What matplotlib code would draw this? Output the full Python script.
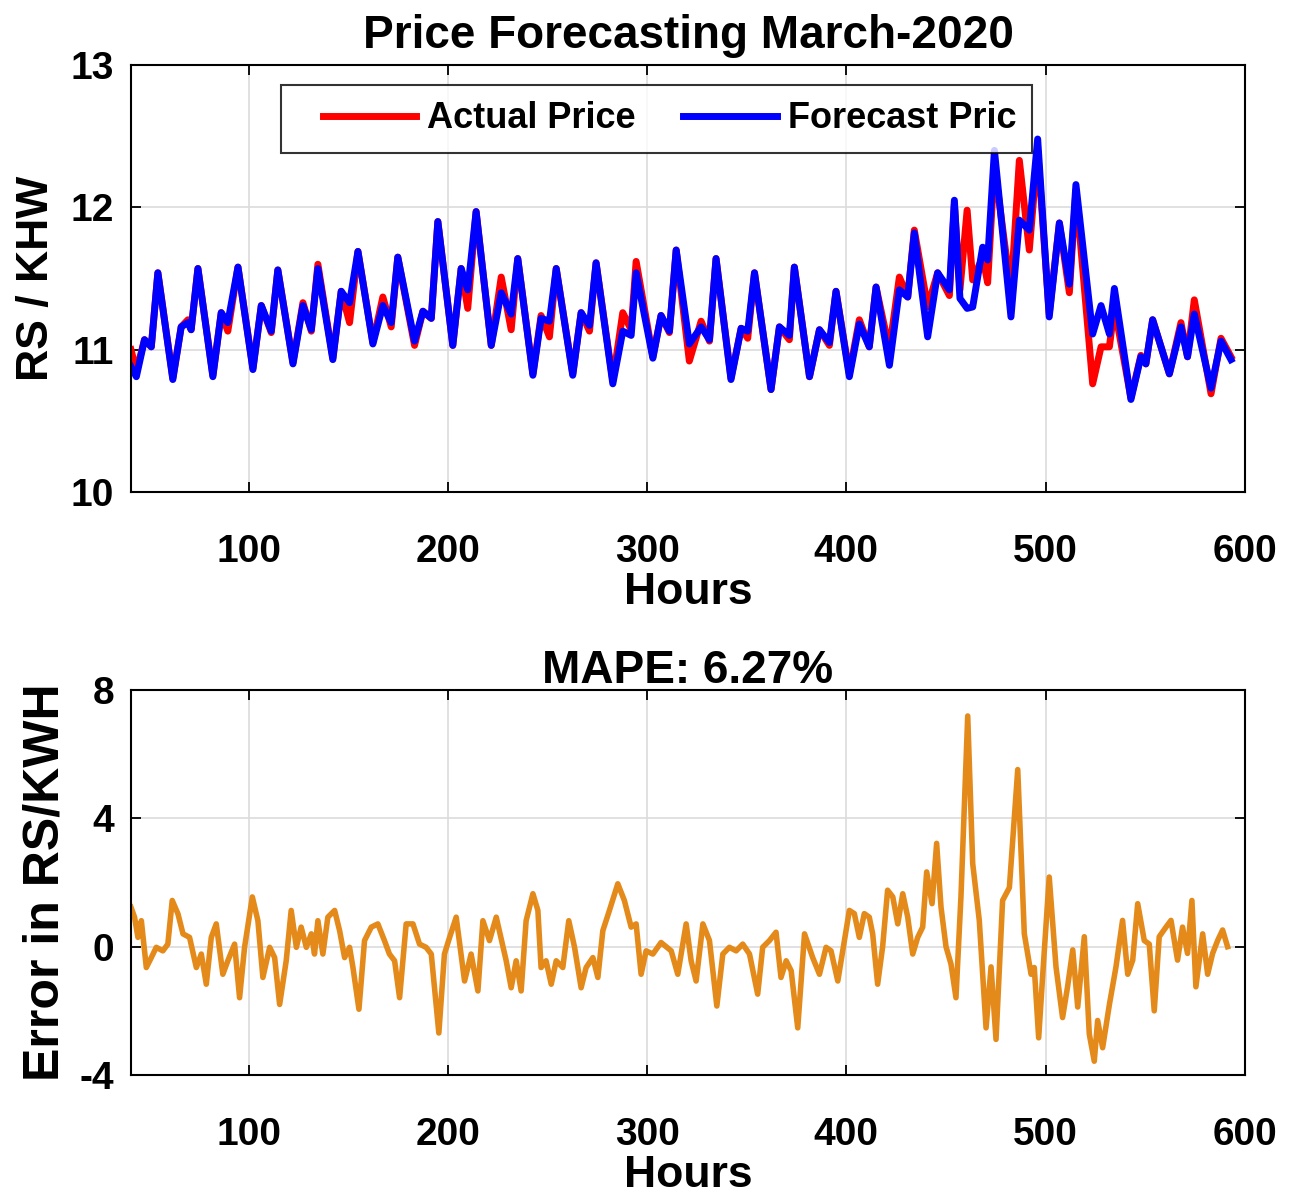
import matplotlib
matplotlib.use("Agg")
import matplotlib.pyplot as plt
from matplotlib.legend_handler import HandlerLine2D

plt.rcParams["font.family"] = ["Liberation Sans", "DejaVu Sans"]
plt.rcParams["font.weight"] = "bold"
plt.rcParams["axes.unicode_minus"] = False

# Hourly prices (vertices of the daily cycles), March 2020
hours = [41, 43.7, 47.8, 51.2, 54.5, 62, 66.2, 69.6, 71.2, 74.6,
         82.1, 86.3, 89.6, 94.7, 102.2, 106.4, 111.4, 114.7, 122.3, 127.3,
         131.5, 134.8, 142.3, 146.5, 150.7, 154.9, 162.4, 167.4, 171.6, 174.9,
         183.3, 187.5, 191.7, 195.0, 202.5, 206.7, 210.0, 214.2, 221.8, 226.8,
         231.8, 235.1, 242.7, 246.8, 251.0, 254.4, 262.7, 266.9, 271.1, 274.4,
         282.8, 287.8, 292.0, 294.5, 302.9, 307.0, 311.2, 314.6, 321.2, 327.1,
         331.3, 334.6, 342.1, 347.2, 350.5, 353.9, 362.2, 366.4, 371.4, 373.9,
         381.5, 386.5, 391.5, 394.8, 401.5, 406.5, 411.5, 414.9, 421.6, 426.6,
         430.8, 434.1, 440.8, 445.8, 451.7, 454.2, 457.0, 460.6, 463.4, 468.4,
         470.9, 474.3, 482.6, 486.8, 491.8, 496.0, 501.8, 506.9, 511.9, 515.2,
         523.6, 527.8, 532.0, 534.5, 542.8, 547.8, 550.3, 553.7, 562.1, 567.9,
         571.2, 574.6, 583.0, 588.0, 593.0]

actual = [11.00, 10.85, 11.07, 11.02, 11.54, 10.80, 11.16, 11.21, 11.14, 11.57,
          10.82, 11.26, 11.13, 11.58, 10.87, 11.31, 11.12, 11.56, 10.91, 11.33,
          11.13, 11.60, 10.94, 11.41, 11.19, 11.69, 11.05, 11.37, 11.16, 11.65,
          11.03, 11.27, 11.22, 11.90, 11.03, 11.57, 11.29, 11.97, 11.03, 11.51,
          11.14, 11.64, 10.83, 11.24, 11.09, 11.57, 10.83, 11.26, 11.13, 11.61,
          10.78, 11.26, 11.14, 11.62, 10.95, 11.24, 11.12, 11.70, 10.92, 11.20,
          11.06, 11.64, 10.80, 11.15, 11.08, 11.54, 10.72, 11.16, 11.07, 11.58,
          10.81, 11.14, 11.03, 11.41, 10.83, 11.21, 11.02, 11.44, 11.00, 11.51,
          11.37, 11.84, 11.30, 11.54, 11.38, 12.02, 11.42, 11.98, 11.49, 11.65,
          11.47, 12.30, 11.40, 12.33, 11.70, 12.40, 11.25, 11.89, 11.40, 12.12,
          10.76, 11.02, 11.02, 11.30, 10.66, 10.96, 10.90, 11.21, 10.83, 11.19,
          10.95, 11.35, 10.69, 11.08, 10.95]

forecast = [10.88, 10.81, 11.07, 11.02, 11.54, 10.79, 11.16, 11.19, 11.14, 11.57,
            10.81, 11.26, 11.19, 11.58, 10.86, 11.31, 11.13, 11.56, 10.90, 11.31,
            11.14, 11.57, 10.93, 11.41, 11.33, 11.69, 11.04, 11.31, 11.19, 11.65,
            11.06, 11.27, 11.22, 11.90, 11.03, 11.57, 11.42, 11.97, 11.03, 11.40,
            11.25, 11.64, 10.82, 11.22, 11.20, 11.57, 10.82, 11.26, 11.17, 11.61,
            10.76, 11.13, 11.10, 11.54, 10.94, 11.24, 11.13, 11.70, 11.04, 11.16,
            11.07, 11.64, 10.79, 11.15, 11.13, 11.54, 10.72, 11.16, 11.10, 11.58,
            10.81, 11.14, 11.05, 11.41, 10.81, 11.18, 11.02, 11.44, 10.89, 11.42,
            11.37, 11.82, 11.09, 11.54, 11.42, 12.05, 11.36, 11.29, 11.30, 11.72,
            11.63, 12.40, 11.23, 11.91, 11.84, 12.48, 11.23, 11.89, 11.46, 12.16,
            11.11, 11.31, 11.11, 11.43, 10.65, 10.95, 10.90, 11.21, 10.83, 11.16,
            10.95, 11.25, 10.73, 11.06, 10.93]

# Forecast error series
err_hours = [41, 42.8, 44.5, 46.2, 48.7, 51.2, 53.7, 57.0, 59.5, 61.7,
             64.6, 67.1, 70.4, 73.8, 76.3, 78.8, 81.3, 83.8, 87.1, 89.6,
             93.0, 95.5, 98.0, 101.9, 104.7, 107.2, 110.6, 113.1, 115.6, 118.9,
             121.4, 124.0, 126.4, 129.0, 131.5, 133.1, 134.8, 137.3, 139.8, 143.2,
             145.7, 148.2, 150.7, 152.4, 155.4, 158.2, 161.6, 164.9, 168.2, 170.7,
             173.3, 175.8, 179.1, 182.5, 185.8, 189.1, 191.7, 195.5, 198.3, 200.9,
             204.2, 208.4, 211.7, 215.1, 217.6, 220.9, 224.3, 229.3, 231.8, 234.3,
             236.8, 239.3, 242.7, 245.2, 246.8, 249.3, 251.9, 254.4, 257.7, 260.7,
             263.6, 266.9, 269.4, 272.8, 275.3, 277.8, 281.1, 285.3, 288.6, 292.0,
             294.5, 297.0, 299.5, 302.9, 307.0, 312.1, 315.4, 319.6, 322.1, 324.6,
             328.0, 331.3, 335.0, 338.0, 341.3, 344.7, 348.0, 351.4, 355.5, 358.0,
             361.4, 364.7, 367.2, 369.8, 372.3, 375.6, 379.0, 383.1, 386.5, 389.8,
             392.3, 395.7, 399.0, 401.5, 404.0, 406.5, 409.0, 411.5, 413.2, 415.7,
             418.2, 420.7, 423.3, 425.8, 428.3, 430.8, 433.3, 435.8, 438.3, 440.3,
             443.0, 445.3, 447.5, 450.0, 452.5, 455.0, 457.5, 460.9, 463.4, 466.7,
             470.1, 472.6, 475.1, 478.4, 481.8, 486.0, 489.3, 492.7, 494.3, 496.5,
             498.8, 501.8, 505.2, 508.5, 511.0, 513.6, 516.1, 519.4, 521.9, 524.4,
             526.1, 528.6, 532.0, 535.3, 538.6, 541.2, 543.7, 546.2, 549.5, 552.0,
             554.5, 557.0, 560.4, 562.9, 566.2, 568.7, 571.2, 573.4, 575.4, 578.8,
             581.3, 583.8, 586.3, 588.8, 591.3]

error = [1.23, 0.92, 0.29, 0.81, -0.65, -0.34, -0.02, -0.13, 0.08, 1.44,
         1.02, 0.40, 0.29, -0.65, -0.23, -1.17, 0.29, 0.71, -0.86, -0.44,
         0.08, -1.59, -0.02, 1.55, 0.81, -0.96, -0.02, -0.34, -1.80, -0.44,
         1.13, -0.02, 0.61, -0.02, 0.40, -0.23, 0.81, -0.23, 0.92, 1.13,
         0.50, -0.34, -0.02, -0.65, -1.95, 0.19, 0.61, 0.71, 0.19, -0.23,
         -0.44, -1.59, 0.71, 0.71, 0.08, -0.02, -0.23, -2.69, -0.23, 0.29,
         0.92, -1.07, -0.23, -1.38, 0.81, 0.19, 0.92, -0.44, -1.28, -0.44,
         -1.38, 0.81, 1.65, 1.13, -0.65, -0.44, -1.17, -0.44, -0.65, 0.81,
         -0.02, -1.28, -0.65, -0.34, -0.96, 0.50, 1.13, 1.96, 1.44, 0.61,
         0.71, -0.86, -0.13, -0.23, 0.13, -0.13, -0.86, 0.71, -0.44, -1.07,
         0.71, 0.19, -1.85, -0.23, -0.02, -0.13, 0.08, -0.23, -1.48, -0.02,
         0.19, 0.45, -0.96, -0.44, -0.75, -2.53, 0.40, -0.34, -0.86, -0.02,
         -0.13, -1.07, 0.19, 1.13, 1.03, 0.29, 1.03, 0.92, 0.40, -1.17,
         0.00, 1.76, 1.55, 0.71, 1.65, 0.92, -0.23, 0.29, 0.61, 2.33,
         1.34, 3.22, 1.23, 0.00, -0.54, -1.59, 1.55, 7.19, 2.59, 0.82,
         -2.53, -0.63, -2.89, 1.44, 1.84, 5.52, 0.40, -0.86, -0.65, -2.84,
         -0.63, 2.17, -0.63, -2.21, -1.25, -0.10, -1.88, 0.31, -2.72, -3.57,
         -2.30, -3.15, -1.80, -0.63, 0.82, -0.86, -0.42, 1.34, 0.19, 0.08,
         -2.00, 0.31, 0.61, 0.82, -0.42, 0.61, -0.21, 1.44, -1.25, 0.40,
         -0.86, -0.21, 0.19, 0.52, 0.00]

x_ticks = [100, 200, 300, 400, 500, 600]


def style_axes(ax):
    ax.grid(True, color="#dcdcdc", linewidth=1.2)
    ax.set_axisbelow(True)
    ax.tick_params(direction="in", length=7, width=1.3, top=True, right=True,
                   labelsize=28)
    ax.tick_params(axis="x", pad=30)
    ax.tick_params(axis="y", pad=12)
    for s in ax.spines.values():
        s.set_linewidth(1.5)
    ax.set_xticks(x_ticks)
    ax.set_xlim(41, 600)


fig = plt.figure(figsize=(12.98, 11.95), dpi=100)

# Top panel: actual vs forecast price
ax1 = fig.add_axes([0.1009, 0.5883, 0.8582, 0.3573])
ax1.plot(hours, actual, color="red", linewidth=5, solid_joinstyle="round",
         label="Actual Price")
ax1.plot(hours, forecast, color="blue", linewidth=5, solid_joinstyle="round",
         label="Forecast Pric")
style_axes(ax1)
ax1.set_ylim(10, 13)
ax1.set_yticks([10, 11, 12, 13])
ax1.set_title("Price Forecasting March-2020", fontsize=33, fontweight="bold",
              pad=12)
ax1.set_xlabel("Hours", fontsize=32, fontweight="bold", labelpad=2)
ax1.set_ylabel("RS / KHW", fontsize=32, fontweight="bold", labelpad=10)
leg = ax1.legend(loc="upper left", bbox_to_anchor=(0.1347, 0.953), ncol=2,
                 fontsize=26, frameon=True, fancybox=False,
                 handlelength=3.3, handletextpad=0.3, columnspacing=0.6,
                 borderpad=0.45, borderaxespad=0,
                 handler_map={plt.Line2D: HandlerLine2D(xpad=0.7)})
leg.get_frame().set_edgecolor("black")
leg.get_frame().set_linewidth(1.5)

# Bottom panel: forecast error
ax2 = fig.add_axes([0.1009, 0.1004, 0.8582, 0.3222])
ax2.plot(err_hours, error, color="#e38a1b", linewidth=4,
         solid_joinstyle="round")
style_axes(ax2)
ax2.set_ylim(-4, 8)
ax2.set_yticks([-4, 0, 4, 8])
ax2.set_title("MAPE: 6.27%", fontsize=33, fontweight="bold", pad=5)
ax2.set_xlabel("Hours", fontsize=32, fontweight="bold", labelpad=2)
ax2.set_ylabel("Error in RS/KWH", fontsize=36, fontweight="bold", labelpad=8)

fig.savefig("out.png", dpi=100)
